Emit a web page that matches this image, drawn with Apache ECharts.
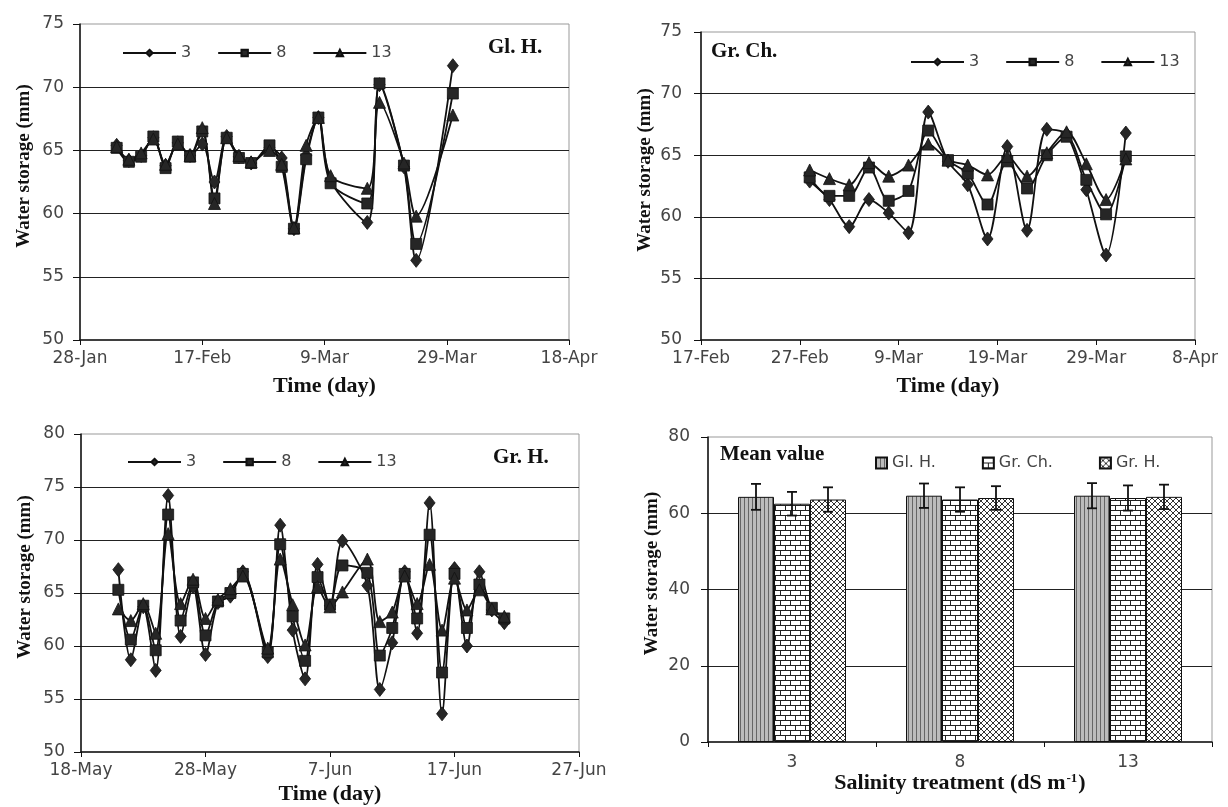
<!DOCTYPE html>
<html>
<head>
<meta charset="utf-8">
<title>Water storage</title>
<script src="https://cdn.jsdelivr.net/npm/echarts@6/dist/echarts.min.js"></script>
<style>
  html, body { margin: 0; padding: 0; background: #fff; }
  #chart { width: 1228px; height: 807px; }
</style>
</head>
<body>
<div id="chart"></div>
<script>
// ---- Gl. H. site: water storage (mm) under salinity 3, 8 and 13 dS/m ----
const glhDates = ['2010-02-03','2010-02-05','2010-02-07','2010-02-09','2010-02-11','2010-02-13',
  '2010-02-15','2010-02-17','2010-02-19','2010-02-21','2010-02-23','2010-02-25','2010-02-28',
  '2010-03-02','2010-03-04','2010-03-06','2010-03-08','2010-03-10','2010-03-16','2010-03-18',
  '2010-03-22','2010-03-24','2010-03-30'];
const glh3  = [65.4,64.2,64.6,66.0,63.8,65.6,64.6,65.5,62.5,66.1,64.5,64.0,65.2,64.4,58.8,64.6,67.6,62.6,59.3,70.2,63.7,56.3,71.7];
const glh8  = [65.2,64.1,64.5,66.1,63.6,65.7,64.5,66.5,61.2,66.0,64.4,64.0,65.4,63.7,58.8,64.3,67.6,62.4,60.8,70.3,63.8,57.6,69.5];
const glh13 = [65.3,64.3,64.8,65.9,63.9,65.5,64.6,66.8,60.8,66.0,64.6,64.1,65.0,63.9,58.9,65.4,67.6,63.0,62.0,68.8,64.0,59.8,67.8];

// ---- Gr. Ch. site ----
const grchDates = ['2010-02-28','2010-03-02','2010-03-04','2010-03-06','2010-03-08','2010-03-10',
  '2010-03-12','2010-03-14','2010-03-16','2010-03-18','2010-03-20','2010-03-22','2010-03-24',
  '2010-03-26','2010-03-28','2010-03-30','2010-04-01'];
const grch3  = [62.9,61.4,59.2,61.4,60.3,58.7,68.5,64.5,62.6,58.2,65.7,58.9,67.1,66.7,62.2,56.9,66.8];
const grch8  = [63.2,61.7,61.7,64.0,61.3,62.1,67.0,64.6,63.5,61.0,64.5,62.3,65.0,66.5,63.0,60.2,64.9];
const grch13 = [63.8,63.1,62.6,64.4,63.3,64.2,65.9,64.6,64.2,63.4,64.9,63.3,65.2,66.9,64.3,61.4,64.7];

// ---- Gr. H. site ----
const grhDates = ['2010-05-21','2010-05-22','2010-05-23','2010-05-24','2010-05-25','2010-05-26',
  '2010-05-27','2010-05-28','2010-05-29','2010-05-30','2010-05-31','2010-06-02','2010-06-03',
  '2010-06-04','2010-06-05','2010-06-06','2010-06-07','2010-06-08','2010-06-10','2010-06-11',
  '2010-06-12','2010-06-13','2010-06-14','2010-06-15','2010-06-16','2010-06-17','2010-06-18',
  '2010-06-19','2010-06-20','2010-06-21'];
const grh3  = [67.2,58.7,63.7,57.7,74.2,60.9,65.6,59.2,64.1,64.7,67.0,59.0,71.4,61.5,56.9,67.7,63.8,69.9,65.7,55.9,60.3,67.0,61.2,73.5,53.6,67.3,60.0,67.0,63.4,62.2];
const grh8  = [65.3,60.6,63.8,59.6,72.4,62.4,66.0,61.0,64.2,65.0,66.8,59.4,69.6,62.8,58.6,66.5,63.9,67.6,66.9,59.1,61.7,66.8,62.6,70.5,57.5,66.8,61.7,65.8,63.6,62.6];
const grh13 = [63.5,62.4,64.0,61.2,70.6,64.0,66.3,62.6,64.4,65.4,66.6,59.8,68.2,63.9,60.1,65.6,63.7,65.1,68.2,62.3,63.2,66.6,64.0,67.7,61.5,66.4,63.4,65.3,63.5,62.8];

// ---- Mean value per salinity treatment, with standard deviation ----
const treatments = ['3', '8', '13'];
const meanGlH  = [64.3, 64.6, 64.6];
const meanGrCh = [62.5, 63.6, 64.0];
const meanGrH  = [63.6, 64.0, 64.3];
const sdGlH  = [3.4, 3.2, 3.3];
const sdGrCh = [3.1, 3.2, 3.3];
const sdGrH  = [3.2, 3.1, 3.2];

// ---- helpers ----
const MONTHS = ['Jan','Feb','Mar','Apr','May','Jun','Jul','Aug','Sep','Oct','Nov','Dec'];
const DAY = 86400000;
const dayOffset = (origin, s) => Math.round((Date.parse(s) - Date.parse(origin)) / DAY);
const dayLabel = (origin, d) => {
  const t = new Date(Date.parse(origin) + d * DAY);
  return t.getUTCDate() + '-' + MONTHS[t.getUTCMonth()];
};

const SERIF = '"Liberation Serif", "Times New Roman", serif';
const SANS = '"DejaVu Sans", Arial, sans-serif';
const INK = '#111';
const LABEL = '#444';

function makePattern(w, h, draw) {
  const c = document.createElement('canvas');
  c.width = w; c.height = h;
  const g = c.getContext('2d');
  draw(g, w, h);
  return { image: c, repeat: 'repeat' };
}
const stripeFill = makePattern(4, 4, (g, w, h) => {
  g.fillStyle = '#bcbcbc'; g.fillRect(0, 0, w, h);
  g.fillStyle = '#666'; g.fillRect(0, 0, 1, h);
});
const brickFill = makePattern(10, 10, (g, w, h) => {
  g.fillStyle = '#fff'; g.fillRect(0, 0, w, h);
  g.fillStyle = '#222';
  g.fillRect(0, 0, w, 1); g.fillRect(0, 5, w, 1);
  g.fillRect(0, 0, 1, 5); g.fillRect(5, 5, 1, 5);
});
const hatchFill = makePattern(6, 6, (g, w, h) => {
  g.fillStyle = '#fff'; g.fillRect(0, 0, w, h);
  g.strokeStyle = '#333'; g.lineWidth = 1;
  g.beginPath();
  g.moveTo(-1, -1); g.lineTo(w + 1, h + 1);
  g.moveTo(w + 1, -1); g.lineTo(-1, h + 1);
  g.stroke();
});

function timeAxis(gridIndex, origin, span, step, labelMargin, nameGap) {
  return {
    type: 'value', gridIndex, min: 0, max: span, interval: step,
    name: 'Time (day)', nameLocation: 'middle', nameGap,
    nameTextStyle: { fontFamily: SERIF, fontWeight: 'bold', fontSize: 22, color: INK },
    axisLine: { show: true, lineStyle: { color: INK, width: 1.5 } },
    axisTick: { show: true, inside: false, length: 5, lineStyle: { color: INK } },
    axisLabel: { margin: labelMargin, fontFamily: SANS, fontSize: 17, color: LABEL,
      formatter: v => dayLabel(origin, v) },
    splitLine: { show: false }
  };
}
function storageAxis(gridIndex, min, max, step, labelMargin) {
  return {
    type: 'value', gridIndex, min, max, interval: step,
    name: 'Water storage (mm)', nameLocation: 'middle', nameGap: 46,
    nameTextStyle: { fontFamily: SERIF, fontWeight: 'bold', fontSize: 19, color: INK, padding: [0, 0, 0, 32] },
    axisLine: { show: true, lineStyle: { color: INK, width: 1.5 } },
    axisTick: { show: true, inside: false, length: 7, lineStyle: { color: INK } },
    axisLabel: { margin: labelMargin, fontFamily: SANS, fontSize: 17, color: LABEL },
    splitLine: { show: true, showMinLine: false, showMaxLine: false, lineStyle: { color: '#222', width: 1 } }
  };
}
const MARKS = { '3': ['diamond', [11, 14]], '8': ['rect', 11], '13': ['triangle', 12] };
function siteSeries(axisIndex, origin, dates, byName) {
  return Object.keys(byName).map(name => ({
    type: 'line', name, xAxisIndex: axisIndex, yAxisIndex: axisIndex,
    data: dates.map((d, i) => [dayOffset(origin, d), byName[name][i]]),
    symbol: MARKS[name][0], symbolSize: MARKS[name][1],
    smooth: 0.3,
    lineStyle: { color: INK, width: 1.8 },
    itemStyle: { color: '#262626', borderColor: INK, borderWidth: 0.8 },
    emphasis: { disabled: true }
  }));
}
function siteLegend(left, top) {
  return {
    left, top, orient: 'horizontal', padding: 0,
    data: ['3', '8', '13'], itemWidth: 53, itemHeight: 8, itemGap: 26,
    textStyle: { fontFamily: SANS, fontSize: 16, color: LABEL },
    selectedMode: false
  };
}
function labelTitle(text, left, top) {
  return { text, left, top, padding: 0,
    textStyle: { fontFamily: SERIF, fontWeight: 'bold', fontSize: 21, color: INK } };
}

const BAR_W = 36;
function errorSeries(name, slot, means, sds) {
  return {
    type: 'custom', name, xAxisIndex: 3, yAxisIndex: 3, z: 5,
    data: means.map((m, i) => [i, m, sds[i]]),
    renderItem: (params, api) => {
      const i = api.value(0), m = api.value(1), e = api.value(2);
      const hi = api.coord([i, m + e]);
      const lo = api.coord([i, m - e]);
      const x = hi[0] + (slot - 1) * BAR_W;
      const cap = 5;
      const st = { stroke: INK, lineWidth: 1.8 };
      return { type: 'group', children: [
        { type: 'line', shape: { x1: x, y1: hi[1], x2: x, y2: lo[1] }, style: st },
        { type: 'line', shape: { x1: x - cap, y1: hi[1], x2: x + cap, y2: hi[1] }, style: st },
        { type: 'line', shape: { x1: x - cap, y1: lo[1], x2: x + cap, y2: lo[1] }, style: st }
      ] };
    }
  };
}
function barSeries(name, values, fill) {
  return {
    type: 'bar', name, xAxisIndex: 3, yAxisIndex: 3, data: values,
    barWidth: BAR_W, barGap: '0%',
    itemStyle: { color: fill, borderColor: INK, borderWidth: 1 },
    emphasis: { disabled: true }
  };
}

const chart = echarts.init(document.getElementById('chart'), null, { renderer: 'canvas' });
chart.setOption({
  animation: false,
  backgroundColor: '#fff',
  title: [
    labelTitle('Gl. H.', 488, 37),
    labelTitle('Gr. Ch.', 711, 41),
    labelTitle('Gr. H.', 493, 447),
    labelTitle('Mean value', 720, 444)
  ],
  legend: [
    siteLegend(122, 45),
    siteLegend(910, 54),
    siteLegend(127, 454),
    {
      left: 875, top: 455, padding: 0, selectedMode: false,
      data: ['Gl. H.', 'Gr. Ch.', 'Gr. H.'], icon: 'rect',
      itemWidth: 11, itemHeight: 11, itemGap: 46,
      textStyle: { fontFamily: SANS, fontSize: 16, color: LABEL }
    }
  ],
  grid: [
    { left: 80, top: 24, width: 489, height: 316, show: true, borderColor: '#999', borderWidth: 1 },
    { left: 701, top: 32, width: 494, height: 308, show: true, borderColor: '#999', borderWidth: 1 },
    { left: 81, top: 434, width: 498, height: 318, show: true, borderColor: '#999', borderWidth: 1 },
    { left: 708, top: 437, width: 504, height: 305, show: true, borderColor: '#999', borderWidth: 1 }
  ],
  xAxis: [
    timeAxis(0, '2010-01-28', 80, 20, 10, 35),
    timeAxis(1, '2010-02-17', 50, 10, 10, 35),
    timeAxis(2, '2010-05-18', 40, 10, 10, 31),
    {
      type: 'category', gridIndex: 3, data: treatments,
      name: 'Salinity treatment (dS m{sup|-1})', nameLocation: 'middle', nameGap: 30,
      nameTextStyle: { fontFamily: SERIF, fontWeight: 'bold', fontSize: 22, color: INK,
        rich: { sup: { fontFamily: SERIF, fontWeight: 'bold', fontSize: 13, color: INK, verticalAlign: 'top', padding: [0, 1, 8, 1] } } },
      axisLine: { show: true, lineStyle: { color: INK, width: 1.5 } },
      axisTick: { show: true, inside: false, length: 5, lineStyle: { color: INK } },
      axisLabel: { margin: 12, fontFamily: SANS, fontSize: 17, color: LABEL },
      splitLine: { show: false }
    }
  ],
  yAxis: [
    storageAxis(0, 50, 75, 5, 16),
    storageAxis(1, 50, 75, 5, 19),
    storageAxis(2, 50, 80, 5, 16),
    storageAxis(3, 0, 80, 20, 18)
  ],
  series: [
    ...siteSeries(0, '2010-01-28', glhDates, { '3': glh3, '8': glh8, '13': glh13 }),
    ...siteSeries(1, '2010-02-17', grchDates, { '3': grch3, '8': grch8, '13': grch13 }),
    ...siteSeries(2, '2010-05-18', grhDates, { '3': grh3, '8': grh8, '13': grh13 }),
    barSeries('Gl. H.', meanGlH, stripeFill),
    barSeries('Gr. Ch.', meanGrCh, brickFill),
    barSeries('Gr. H.', meanGrH, hatchFill),
    errorSeries('sd Gl. H.', 0, meanGlH, sdGlH),
    errorSeries('sd Gr. Ch.', 1, meanGrCh, sdGrCh),
    errorSeries('sd Gr. H.', 2, meanGrH, sdGrH)
  ]
});
</script>
</body>
</html>
